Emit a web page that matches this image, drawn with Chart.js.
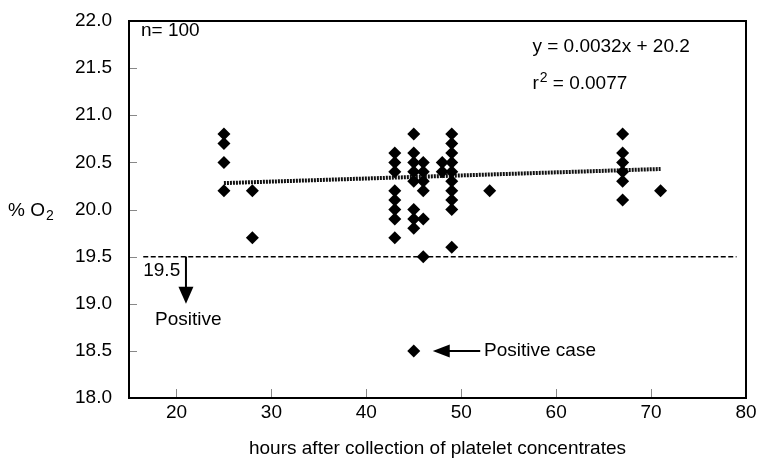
<!DOCTYPE html>
<html>
<head>
<meta charset="utf-8">
<script src="https://cdn.jsdelivr.net/npm/chart.js@4"></script>
<style>
  body { margin: 0; background: #fff; }
  canvas { display: block; }
</style>
</head>
<body>
<canvas id="chart" width="757" height="460"></canvas>
<script>
// x = hours after collection, y = % O2 (one entry per visible diamond)
var hours = [
  25, 25, 25, 25,
  28, 28,
  43, 43, 43, 43, 43, 43, 43, 43,
  45, 45, 45, 45, 45, 45, 45, 45, 45,
  46, 46, 46, 46, 46, 46,
  48, 48,
  49, 49, 49, 49, 49, 49, 49, 49, 49, 49,
  53,
  67, 67, 67, 67, 67, 67,
  71
];
var o2 = [
  20.8, 20.7, 20.5, 20.2,
  20.2, 19.7,
  20.6, 20.5, 20.4, 20.2, 20.1, 20.0, 19.9, 19.7,
  20.8, 20.6, 20.5, 20.4, 20.3, 20.0, 19.9, 19.8, 18.5,
  20.5, 20.4, 20.3, 20.2, 19.9, 19.5,
  20.5, 20.4,
  20.8, 20.7, 20.6, 20.5, 20.4, 20.3, 20.2, 20.1, 20.0, 19.6,
  20.2,
  20.8, 20.6, 20.5, 20.4, 20.3, 20.1,
  20.2
];

// linear fit as drawn in the figure
var trendX = [25, 71];
var trendY = [20.28, 20.43];

// 19.5 % cut-off line
var cutoffX = [16.5, 79];
var cutoffY = [19.5, 19.5];

var xTicks = [20, 30, 40, 50, 60, 70, 80];
var yTicks = [18.0, 18.5, 19.0, 19.5, 20.0, 20.5, 21.0, 21.5, 22.0];

var FONT = '"Liberation Sans", Arial, Helvetica, sans-serif';

function pairs(xs, ys) {
  return xs.map(function(x, i) { return { x: x, y: ys[i] }; });
}

// box, inner ticks, y title and the text notes
var decorations = {
  id: 'decorations',
  afterDatasetsDraw: function(chart) {
    var ctx = chart.ctx;
    var a = chart.chartArea;
    var xs = chart.scales.x;
    var ys = chart.scales.y;
    var px = function(v) { return xs.getPixelForValue(v); };
    var py = function(v) { return ys.getPixelForValue(v); };

    ctx.save();

    // inner tick marks
    ctx.strokeStyle = '#888';
    ctx.lineWidth = 1;
    ctx.beginPath();
    xTicks.forEach(function(v) {
      if (v === 80) return;
      var x = Math.round(px(v)) + 0.5;
      ctx.moveTo(x, a.bottom);
      ctx.lineTo(x, a.bottom - 9);
    });
    yTicks.forEach(function(v) {
      if (v === 18 || v === 22) return;
      var y = Math.round(py(v)) + 0.5;
      ctx.moveTo(a.left, y);
      ctx.lineTo(a.left + 8, y);
    });
    ctx.stroke();

    // frame
    ctx.strokeStyle = '#000';
    ctx.lineWidth = 2;
    ctx.strokeRect(a.left, a.top, a.right - a.left, a.bottom - a.top);

    ctx.fillStyle = '#000';
    ctx.textBaseline = 'middle';
    ctx.textAlign = 'left';

    // y axis title with subscript
    ctx.font = '19px ' + FONT;
    ctx.fillText('% O', 8, py(20.0) + 1);
    var w = ctx.measureText('% O').width;
    ctx.font = '14px ' + FONT;
    ctx.fillText('2', 8 + w + 1, py(20.0) + 7);

    ctx.font = '19px ' + FONT;
    ctx.fillText('n= 100', px(16.26), py(21.9));
    ctx.fillText('y = 0.0032x + 20.2', px(57.5), py(21.73));

    ctx.fillText('r', px(57.5), py(21.33));
    var rw = ctx.measureText('r').width;
    ctx.font = '14px ' + FONT;
    ctx.fillText('2', px(57.5) + rw + 1, py(21.33) - 6);
    var sw = ctx.measureText('2').width;
    ctx.font = '19px ' + FONT;
    ctx.fillText(' = 0.0077', px(57.5) + rw + sw + 1, py(21.33));

    ctx.fillText('19.5', px(16.5), py(19.35));
    ctx.fillText('Positive', px(17.74), py(18.83));
    ctx.fillText('Positive case', px(52.4), py(18.5));

    // down arrow under the cut-off
    var ax = px(21);
    var tip = py(19.0);
    ctx.lineWidth = 2;
    ctx.beginPath();
    ctx.moveTo(ax, py(19.5));
    ctx.lineTo(ax, tip - 15);
    ctx.stroke();
    ctx.beginPath();
    ctx.moveTo(ax - 7.5, tip - 17);
    ctx.lineTo(ax + 7.5, tip - 17);
    ctx.lineTo(ax, tip);
    ctx.closePath();
    ctx.fill();

    // left arrow to the positive case
    var ay = py(18.5);
    var tx = px(47.0);
    ctx.beginPath();
    ctx.moveTo(tx + 15, ay);
    ctx.lineTo(px(52.0), ay);
    ctx.stroke();
    ctx.beginPath();
    ctx.moveTo(tx + 17, ay - 6.5);
    ctx.lineTo(tx + 17, ay + 6.5);
    ctx.lineTo(tx, ay);
    ctx.closePath();
    ctx.fill();

    ctx.restore();
  }
};

new Chart(document.getElementById('chart'), {
  type: 'scatter',
  data: {
    datasets: [
      {
        label: 'samples',
        data: pairs(hours, o2),
        pointStyle: 'rectRot',
        pointRadius: 6.5,
        backgroundColor: '#000',
        borderColor: '#000',
        borderWidth: 0
      },
      {
        label: 'fit',
        data: pairs(trendX, trendY),
        showLine: true,
        pointRadius: 0,
        borderColor: '#111',
        borderWidth: 4,
        borderDash: [2, 1]
      },
      {
        label: 'cut-off',
        data: pairs(cutoffX, cutoffY),
        showLine: true,
        pointRadius: 0,
        borderColor: '#000',
        borderWidth: 1.5,
        borderDash: [5, 2.5]
      }
    ]
  },
  options: {
    responsive: false,
    animation: false,
    layout: { padding: { top: 21, right: 11, left: 0, bottom: 0 } },
    plugins: {
      legend: { display: false },
      tooltip: { enabled: false }
    },
    scales: {
      x: {
        type: 'linear',
        min: 15,
        max: 80,
        afterBuildTicks: function(scale) {
          scale.ticks = xTicks.map(function(v) { return { value: v }; });
        },
        afterFit: function(scale) {
          scale.height = 62;
          scale.paddingLeft = 0;
          scale.paddingRight = 0;
        },
        grid: { display: false, drawTicks: false },
        border: { display: false },
        ticks: {
          color: '#000',
          padding: 3,
          maxRotation: 0,
          font: { family: FONT, size: 19 }
        },
        title: {
          display: true,
          text: 'hours after collection of platelet concentrates',
          color: '#000',
          font: { family: FONT, size: 19 },
          padding: { top: 0, bottom: 0 }
        }
      },
      y: {
        type: 'linear',
        min: 18,
        max: 22,
        afterBuildTicks: function(scale) {
          scale.ticks = yTicks.map(function(v) { return { value: v }; });
        },
        afterFit: function(scale) {
          scale.width = 129;
          scale.paddingTop = 0;
          scale.paddingBottom = 0;
        },
        grid: { display: false, drawTicks: false },
        border: { display: false },
        ticks: {
          color: '#000',
          padding: 17,
          font: { family: FONT, size: 19 },
          callback: function(v) { return Number(v).toFixed(1); }
        }
      }
    }
  },
  plugins: [decorations]
});
</script>
</body>
</html>
